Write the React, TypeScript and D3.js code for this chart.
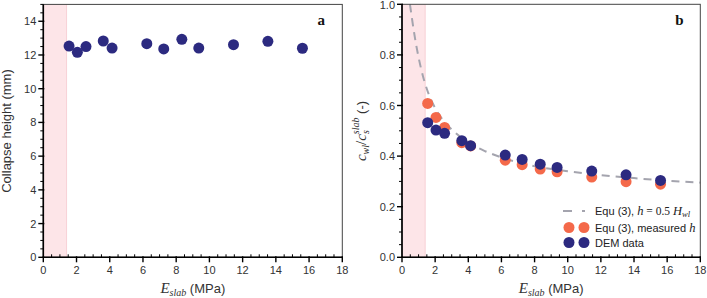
import React from "react";
import * as d3 from "d3";

const eSlab = [1.55, 2.05, 2.57, 3.61, 4.14, 6.23, 7.25, 8.34, 9.36, 11.45, 13.52, 15.6];
const collapseHeight = [12.53, 12.16, 12.5, 12.83, 12.41, 12.67, 12.36, 12.93, 12.41, 12.61, 12.81, 12.4];
const ratioEqu = [0.608, 0.553, 0.513, 0.453, 0.44, 0.384, 0.366, 0.349, 0.338, 0.317, 0.299, 0.289];
const ratioDem = [0.532, 0.503, 0.49, 0.461, 0.441, 0.404, 0.387, 0.368, 0.355, 0.341, 0.326, 0.304];
const curveX = [0.48, 0.75, 1.0, 1.25, 1.5, 2, 2.5, 3, 4, 5, 6, 8, 10, 12, 14, 16, 18];
const curveY = [1.0, 0.88, 0.79, 0.72, 0.665, 0.59, 0.54, 0.505, 0.455, 0.42, 0.395, 0.36, 0.34, 0.325, 0.313, 0.303, 0.295];
const xTicks = [0, 2, 4, 6, 8, 10, 12, 14, 16, 18];
const yTicksA = [0, 2, 4, 6, 8, 10, 12, 14];
const yTicksB = [0, 0.2, 0.4, 0.6, 0.8, 1.0];
const softRange = [0, 1.4];

const BLUE = "#2c2a80";
const ORANGE = "#f4694a";
const SANS = "'Liberation Sans', Arial, sans-serif";
const SERIF = "'Liberation Serif', 'Times New Roman', serif";

type PanelProps = {
  x0: number; x1: number; yTop: number; yBot: number;
  yMax: number; yTicks: number[]; yMinor: number; yFmt: (v: number) => string;
  children: (x: d3.ScaleLinear<number, number>, y: d3.ScaleLinear<number, number>) => React.ReactNode;
  letter: string;
};

function Panel({ x0, x1, yTop, yBot, yMax, yTicks, yMinor, yFmt, children, letter }: PanelProps) {
  const x = d3.scaleLinear().domain([0, 18]).range([x0, x1]);
  const y = d3.scaleLinear().domain([0, yMax]).range([yBot, yTop]);
  const xMinor = d3.range(0, 18.001, 0.5).filter((v) => Math.abs(v % 2) > 1e-6);
  const yMin = d3.range(0, yMax + 1e-6, yMinor).filter((v) => !yTicks.some((t) => Math.abs(t - v) < 1e-6));
  return (
    <g>
      <rect x={x(softRange[0])} y={yTop} width={x(softRange[1]) - x(softRange[0])} height={yBot - yTop} fill="#fde5e8" />
      <line x1={x(softRange[1])} x2={x(softRange[1])} y1={yTop} y2={yBot} stroke="#f6c9cf" strokeWidth={0.8} />
      {children(x, y)}
      <rect x={x0} y={yTop} width={x1 - x0} height={yBot - yTop} fill="none" stroke="#444" strokeWidth={1} />
      <line x1={x0} x2={x1} y1={yBot} y2={yBot} stroke="#000" strokeWidth={1.6} />
      <line x1={x0} x2={x0} y1={yTop} y2={yBot} stroke="#000" strokeWidth={1.6} />
      {xTicks.map((t) => (
        <g key={"xt" + t}>
          <line x1={x(t)} x2={x(t)} y1={yBot - 1} y2={yBot + 5} stroke="#000" strokeWidth={1.4} />
          <text x={x(t)} y={yBot + 17} fontSize={11} fontFamily={SANS} fill="#333" textAnchor="middle">{t}</text>
        </g>
      ))}
      {xMinor.map((t) => (
        <line key={"xm" + t} x1={x(t)} x2={x(t)} y1={yBot - 3} y2={yBot} stroke="#000" strokeWidth={1} />
      ))}
      {yTicks.map((t) => (
        <g key={"yt" + t}>
          <line x1={x0 - 5} x2={x0 + 1} y1={y(t)} y2={y(t)} stroke="#000" strokeWidth={1.4} />
          <text x={x0 - 7} y={Math.max(y(t) + 4, 9)} fontSize={11} fontFamily={SANS} fill="#333" textAnchor="end">{yFmt(t)}</text>
        </g>
      ))}
      {yMin.map((t) => (
        <line key={"ym" + t} x1={x0 - 3} x2={x0} y1={y(t)} y2={y(t)} stroke="#000" strokeWidth={1} />
      ))}
      <text x={x1 - 21} y={yTop + 21} fontSize={15} fontWeight="bold" fontFamily={SERIF} fill="#111" textAnchor="middle">{letter}</text>
      <text x={(x0 + x1) / 2} y={293} textAnchor="middle" fill="#333">
        <tspan fontFamily={SERIF} fontStyle="italic" fontSize={15}>E</tspan>
        <tspan fontFamily={SERIF} fontStyle="italic" fontSize={10} dy={3}>slab</tspan>
        <tspan fontFamily={SANS} fontSize={13} dy={-3}> (MPa)</tspan>
      </text>
    </g>
  );
}

export default function App() {
  const line = (x: d3.ScaleLinear<number, number>, y: d3.ScaleLinear<number, number>) =>
    d3.line<number>().x((d) => x(d)).y((_, i) => y(curveY[i])).curve(d3.curveMonotoneX)(curveX) || "";
  return (
    <svg width={707} height={298} style={{ position: "absolute", left: 0, top: 0, background: "#fff" }}>
      <Panel x0={43.3} x1={342.3} yTop={4.4} yBot={257.3} yMax={15} yTicks={yTicksA} yMinor={0.5} yFmt={(v) => String(v)} letter="a">
        {(x, y) => (
          <g>
            {eSlab.map((e, i) => (
              <circle key={i} cx={x(e)} cy={y(collapseHeight[i])} r={5.5} fill={BLUE} />
            ))}
          </g>
        )}
      </Panel>
      <text transform="translate(11,131) rotate(-90)" textAnchor="middle" fontSize={13} fontFamily={SANS} fill="#333">Collapse height (mm)</text>
      <Panel x0={402} x1={700.3} yTop={4.3} yBot={257.3} yMax={1.0} yTicks={yTicksB} yMinor={0.05} yFmt={(v) => v.toFixed(1)} letter="b">
        {(x, y) => (
          <g>
            <path d={line(x, y)} fill="none" stroke="#a4a4ae" strokeWidth={2} strokeDasharray="8,6" />
            {eSlab.map((e, i) => (
              <circle key={"o" + i} cx={x(e)} cy={y(ratioEqu[i])} r={5.5} fill={ORANGE} />
            ))}
            {eSlab.map((e, i) => (
              <circle key={"b" + i} cx={x(e)} cy={y(ratioDem[i])} r={5.5} fill={BLUE} />
            ))}
          </g>
        )}
      </Panel>
      <text transform="translate(366,131) rotate(-90)" textAnchor="middle" fill="#333" fontFamily={SERIF} fontStyle="italic">
        <tspan fontSize={15}>c</tspan>
        <tspan fontSize={10} dy={3}>wl</tspan>
        <tspan fontSize={15} dy={-3} fontStyle="normal">/</tspan>
        <tspan fontSize={15}>c</tspan>
        <tspan fontSize={10} dy={3}>s</tspan>
        <tspan fontSize={10} dy={-10} dx={-4}>slab</tspan>
        <tspan fontSize={13} dy={7} fontFamily={SANS} fontStyle="normal"> (-)</tspan>
      </text>
      <g>
        <line x1={563} x2={572} y1={211} y2={211} stroke="#a4a4ae" strokeWidth={2} />
        <line x1={582} x2={585} y1={211} y2={211} stroke="#a4a4ae" strokeWidth={2} />
        <text x={595} y={215} fontSize={11} fontFamily={SANS} fill="#222">
          Equ (3), <tspan fontFamily={SERIF} fontStyle="italic" fontSize={12.5}>h</tspan>
          <tspan fontFamily={SERIF} fontSize={11.5}> = 0.5 </tspan>
          <tspan fontFamily={SERIF} fontStyle="italic" fontSize={12.5}>H</tspan>
          <tspan fontFamily={SERIF} fontStyle="italic" fontSize={8.5} dy={2}>wl</tspan>
        </text>
        <circle cx={569} cy={227.5} r={5.5} fill={ORANGE} />
        <circle cx={584} cy={227.5} r={5.5} fill={ORANGE} />
        <text x={595} y={231.5} fontSize={11} fontFamily={SANS} fill="#222">
          Equ (3), measured <tspan fontFamily={SERIF} fontStyle="italic" fontSize={12.5}>h</tspan>
        </text>
        <circle cx={569} cy={242.5} r={5.5} fill={BLUE} />
        <circle cx={584} cy={242.5} r={5.5} fill={BLUE} />
        <text x={595} y={246.5} fontSize={11} fontFamily={SANS} fill="#222">DEM data</text>
      </g>
    </svg>
  );
}
